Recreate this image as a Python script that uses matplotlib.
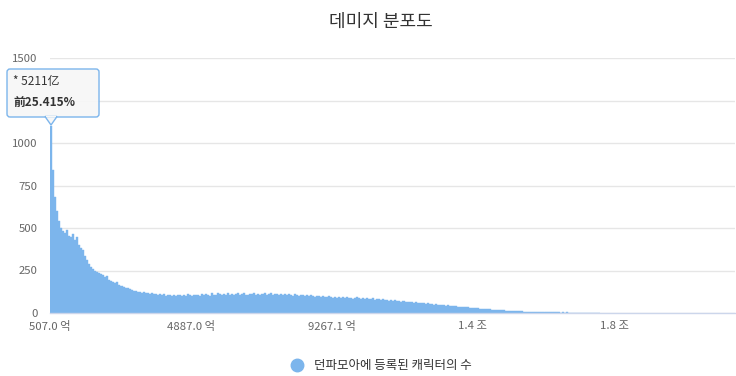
import matplotlib
matplotlib.use("Agg")
import matplotlib.pyplot as plt
from matplotlib.patches import FancyBboxPatch, Polygon
from matplotlib.lines import Line2D
import numpy as np

plt.rcParams['font.family'] = ['Noto Sans CJK KR', 'DejaVu Sans']

# ---- data ----
bin_start = 507.0            # 억
bin_width = 62.57            # 억 per bin
counts = [
    1100, 840, 680, 600, 540, 500, 480, 470, 490, 455,
    450, 465, 430, 445, 400, 385, 370, 335, 310, 290,
    270, 260, 250, 240, 235, 228, 225, 210, 215, 195,
    190, 185, 175, 180, 165, 160, 155, 150, 145, 140,
    135, 130, 128, 125, 122, 120, 125, 115, 118, 112,
    115, 110, 112, 108, 110, 105, 110, 100, 108, 104,
    102, 108, 100, 105, 103, 100, 106, 102, 110, 104,
    100, 108, 103, 106, 101, 110, 104, 112, 106, 100,
    115, 108, 104, 118, 110, 106, 112, 104, 120, 108,
    114, 106, 110, 116, 104, 112, 118, 108, 106, 114,
    110, 120, 108, 112, 106, 110, 116, 104, 112, 118,
    106, 110, 114, 108, 112, 106, 110, 104, 112, 108,
    102, 110, 106, 100, 108, 104, 100, 106, 98, 104,
    100, 96, 102, 98, 94, 100, 96, 92, 98, 94,
    90, 96, 88, 92, 90, 94, 88, 92, 86, 90,
    84, 88, 92, 86, 84, 88, 82, 86, 80, 84,
    86, 78, 82, 80, 76, 80, 76, 78, 72, 76,
    70, 74, 68, 72, 66, 68, 64, 66, 62, 64,
    60, 62, 58, 60, 56, 58, 54, 56, 52, 54,
    50, 52, 48, 50, 46, 48, 44, 46, 42, 44,
    40, 40, 38, 38, 36, 36, 34, 34, 32, 30,
    30, 28, 28, 26, 26, 25, 24, 22, 22, 20,
    20, 18, 18, 17, 16, 15, 14, 14, 13, 12,
    12, 11, 10, 10, 9, 8, 8, 7, 7, 6,
    6, 5, 5, 5, 4, 4, 4, 4, 3, 4,
    3, 3, 3, 2, 3, 2, 3, 2, 2, 2,
    1, 2, 1, 2, 1, 1, 2, 1, 1, 0,
    2, 1, 0,
]
tick_values = [507.0, 4887.0, 9267.1, 13647.0, 18027.0]
tick_labels = ["507.0 억", "4887.0 억", "9267.1 억", "1.4 조", "1.8 조"]
y_ticks = [0, 250, 500, 750, 1000, 1250, 1500]
# the 1250 label is hidden behind the tooltip in the reference
y_labels = ["0", "250", "500", "750", "1000", "", "1500"]
series_name = "던파모아에 등록된 캐릭터의 수"
title = "데미지 분포도"
tip_line1 = "* 5211亿"
tip_line2 = "前25.415%"

# ---- figure ----
W, H = 736, 376
fig = plt.figure(figsize=(W / 100, H / 100), dpi=100)
ax = fig.add_axes([50 / W, (H - 313) / H, 685 / W, 255 / H])

color = "#7cb5ec"
edges = bin_start + bin_width * np.arange(len(counts))
ax.bar(edges, counts, width=bin_width, align='edge', color=color,
       edgecolor=color, linewidth=0.3)

ax.set_xlim(507.0, 507.0 + 685 / 141 * 4380)
ax.set_ylim(0, 1500)
ax.set_xticks(tick_values)
ax.set_xticklabels(tick_labels)
ax.set_yticks(y_ticks)
ax.set_yticklabels(y_labels)
ax.tick_params(axis='x', length=0, pad=6, labelsize=8.2, labelcolor="#666666")
ax.tick_params(axis='y', length=0, pad=9, labelsize=8.2, labelcolor="#666666")
for lab in ax.get_yticklabels():
    lab.set_horizontalalignment('right')
ax.grid(axis='y', color="#e6e6e6", linewidth=1)
ax.set_axisbelow(True)
for s in ['top', 'right', 'left']:
    ax.spines[s].set_visible(False)
ax.spines['bottom'].set_color("#ccd6eb")
ax.spines['bottom'].set_linewidth(1)

fig.text(381 / W, 1 - 22 / H, title, ha='center', va='center',
         fontsize=13, color="#333333")

# legend
handle = Line2D([], [], marker='o', linestyle='none', markersize=9,
                markerfacecolor=color, markeredgecolor=color)
fig.legend([handle], [series_name], loc='center', bbox_to_anchor=(378 / W, 1 - 366 / H),
           frameon=False, fontsize=9, handletextpad=0.3, labelcolor="#333333")

# tooltip anchored at first bar
fig.canvas.draw()
px, py = ax.transData.transform((edges[0] + bin_width / 2, counts[0]))
bg = (247 / 255, 247 / 255, 247 / 255)
box = FancyBboxPatch((px - 44, py + 9), 92, 48,
                     boxstyle="round,pad=0,rounding_size=3",
                     transform=None, facecolor=bg + (0.92,),
                     edgecolor=color, linewidth=1, zorder=10)
fig.patches.append(box)
tri = Polygon([(px - 6, py + 9.5), (px + 6, py + 9.5), (px, py + 1)], closed=True,
              transform=None, facecolor=bg + (1,),
              edgecolor=color, linewidth=1, zorder=11)
fig.patches.append(tri)
cover = Polygon([(px - 5, py + 9.5), (px + 5, py + 9.5), (px + 5, py + 10.5), (px - 5, py + 10.5)],
                closed=True, transform=None, facecolor=bg + (1,),
                edgecolor='none', zorder=12)
fig.patches.append(cover)
fig.text((px - 38) / W, (py + 45) / H, tip_line1, ha='left', va='center',
         fontsize=8.5, color="#333333", zorder=13)
fig.text((px - 38) / W, (py + 24) / H, tip_line2, ha='left', va='center',
         fontsize=8.5, color="#333333", fontweight='bold', zorder=13)

fig.savefig("out.png", dpi=100)
